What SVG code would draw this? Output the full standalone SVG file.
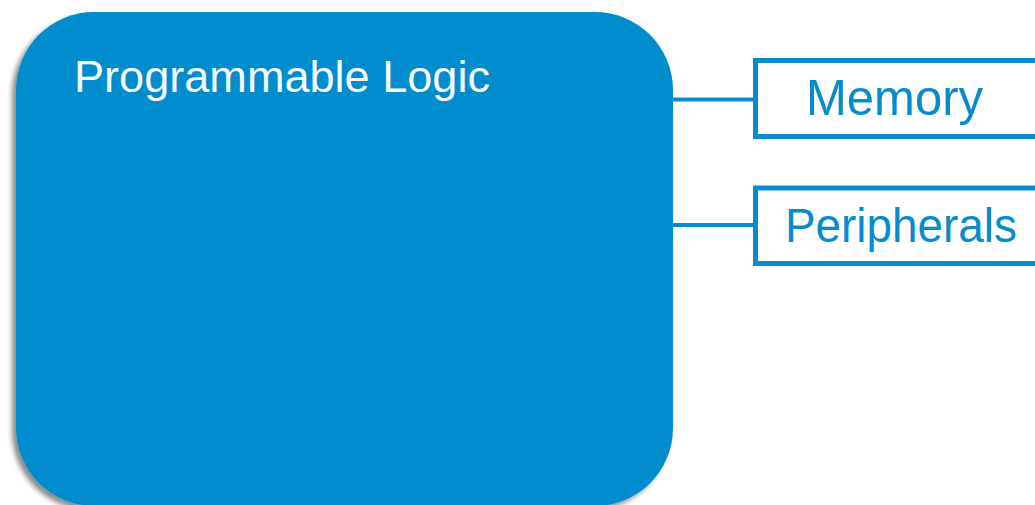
<svg xmlns="http://www.w3.org/2000/svg" width="1035" height="505" viewBox="0 0 1035 505">
  <style>
    .pl { fill: #068ccd; }
    .box { fill: #ffffff; stroke: #068ccd; stroke-width: 5; }
    .link { stroke: #068ccd; stroke-width: 4; fill: none; }
    .title { font-family: "Liberation Sans", Arial, sans-serif; fill: #f5f9fc; }
    .label { font-family: "Liberation Sans", Arial, sans-serif; fill: #068ccd; }
  </style>
  <defs>
    <filter id="shadow" x="-10%" y="-10%" width="120%" height="120%">
      <feDropShadow dx="-4" dy="4" stdDeviation="2.5" flood-color="#000000" flood-opacity="0.45"/>
    </filter>
  </defs>
  <rect width="1035" height="505" fill="#ffffff"/>

  <!-- connectors -->
  <g id="connectors">
    <line class="link" x1="670" y1="99.5" x2="755" y2="99.5"/>
    <line class="link" x1="670" y1="225" x2="755" y2="225"/>
  </g>

  <!-- programmable logic block -->
  <g id="programmable-logic">
    <rect class="pl" x="16" y="12" width="657" height="494" rx="78" ry="78" filter="url(#shadow)"/>
    <text class="title" x="74" y="92" font-size="45" textLength="416" lengthAdjust="spacingAndGlyphs">Programmable Logic</text>
  </g>

  <!-- memory block -->
  <g id="memory">
    <rect class="box" x="755.5" y="60.5" width="300" height="76"/>
    <text class="label" x="806" y="115" font-size="50" textLength="177" lengthAdjust="spacingAndGlyphs">Memory</text>
  </g>

  <!-- peripherals block -->
  <g id="peripherals">
    <rect class="box" x="755.5" y="188" width="300" height="75.5"/>
    <text class="label" x="785" y="241.5" font-size="48" textLength="232" lengthAdjust="spacingAndGlyphs">Peripherals</text>
  </g>
</svg>
